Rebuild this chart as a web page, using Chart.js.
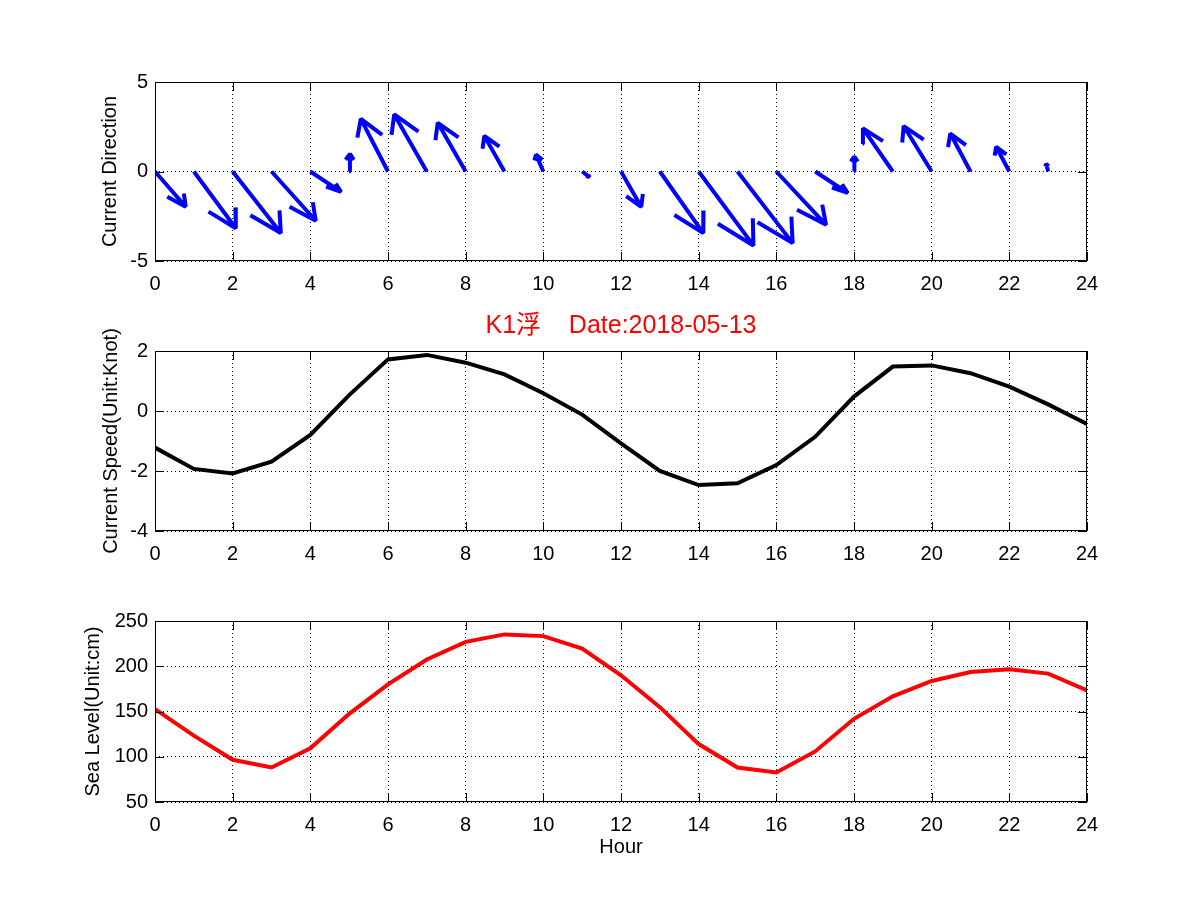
<!DOCTYPE html>
<html>
<head>
<meta charset="utf-8">
<title>K1 current and sea level</title>
<script src="https://cdn.jsdelivr.net/npm/chart.js@4.4.1/dist/chart.umd.min.js"></script>
<style>
  html, body { margin: 0; padding: 0; background: #fff; }
  #wrap { position: relative; width: 1201px; height: 901px; overflow: hidden; }
  #wrap canvas { position: absolute; left: 0; }
</style>
</head>
<body>
<div id="wrap">
  <canvas id="dirChart" width="1201" height="300" style="top:0px"></canvas>
  <canvas id="speedChart" width="1201" height="270" style="top:300px"></canvas>
  <canvas id="levelChart" width="1201" height="331" style="top:570px"></canvas>
</div>
<script>
// hourly readings, 2018-05-13
const hours = [0, 1, 2, 3, 4, 5, 6, 7, 8, 9, 10, 11, 12, 13, 14, 15, 16, 17, 18, 19, 20, 21, 22, 23, 24];

// current direction arrows (east / north components), one per hour 0..23
const arrowHours = [0, 1, 2, 3, 4, 5, 6, 7, 8, 9, 10, 11, 12, 13, 14, 15, 16, 17, 18, 19, 20, 21, 22, 23];
const dirU = [0.79, 1.08, 1.24, 1.14, 0.79, 0.02, -0.70, -0.84, -0.72, -0.52, -0.19, 0.19,
              0.52, 1.12, 1.41, 1.42, 1.28, 0.84, 0.01, -0.77, -0.72, -0.52, -0.34, -0.05];
const dirV = [-1.97, -3.17, -3.44, -2.75, -1.14, 0.98, 2.94, 3.19, 2.72, 1.99, 0.94, -0.31,
              -1.97, -3.44, -4.13, -4.00, -2.98, -1.20, 0.83, 2.41, 2.54, 2.12, 1.38, 0.42];

const speed = [-1.22, -1.93, -2.08, -1.69, -0.80, 0.53, 1.72, 1.87, 1.61, 1.22, 0.59, -0.12,
               -1.08, -2.00, -2.47, -2.41, -1.80, -0.86, 0.48, 1.48, 1.52, 1.26, 0.81, 0.22, -0.43];

const seaLevel = [152.6, 123.3, 96.7, 88.1, 109.3, 147.4, 180.0, 207.4, 227.0, 235.2, 233.3, 219.6,
                  190.0, 154.8, 114.0, 88.1, 82.6, 105.9, 141.9, 166.7, 183.7, 193.7, 196.7, 191.9, 173.3];

// tick labels
const hourTicks = [0, 2, 4, 6, 8, 10, 12, 14, 16, 18, 20, 22, 24];
const dirTicks = [-5, 0, 5];
const speedTicks = [-4, -2, 0, 2];
const levelTicks = [50, 100, 150, 200, 250];

const FONT = 'Liberation Sans, Arial, Helvetica, "Noto Sans CJK SC", sans-serif';
Chart.defaults.font.family = FONT;
Chart.defaults.font.size = 20;
Chart.defaults.color = '#000';

// box around the axes with short inward ticks, like matlab
const framePlugin = {
  id: 'frame',
  afterDraw(chart) {
    const { ctx, chartArea: a, scales } = chart;
    const tl = 9;
    ctx.save();
    ctx.strokeStyle = '#000';
    ctx.lineWidth = 1;
    ctx.beginPath();
    ctx.rect(Math.round(a.left) + 0.5, Math.round(a.top) + 0.5,
             Math.round(a.right - a.left) - 1, Math.round(a.bottom - a.top) - 1);
    scales.x.ticks.forEach(t => {
      const px = Math.round(scales.x.getPixelForValue(t.value)) + 0.5;
      ctx.moveTo(px, a.bottom); ctx.lineTo(px, a.bottom - tl);
      ctx.moveTo(px, a.top); ctx.lineTo(px, a.top + tl);
    });
    scales.y.ticks.forEach(t => {
      const py = Math.round(scales.y.getPixelForValue(t.value)) + 0.5;
      ctx.moveTo(a.left, py); ctx.lineTo(a.left + tl, py);
      ctx.moveTo(a.right, py); ctx.lineTo(a.right - tl, py);
    });
    ctx.stroke();
    ctx.restore();
  }
};

function fixedTicks(values) {
  return scale => { scale.ticks = values.map(v => ({ value: v })); };
}

function xScale(withTitle) {
  return {
    type: 'linear',
    min: 0, max: 24,
    afterBuildTicks: fixedTicks(hourTicks),
    afterFit: s => { s.height = withTitle ? 99 : 39; },
    grid: { color: '#000', lineWidth: 1, drawTicks: false },
    border: { display: false, dash: [1, 3] },
    ticks: { padding: 11, maxRotation: 0, autoSkip: false },
    title: { display: withTitle, text: 'Hour', padding: { top: 0, bottom: 42 } }
  };
}

function yScale(min, max, ticks, label, titleOffset) {
  return {
    min: min, max: max,
    afterBuildTicks: fixedTicks(ticks),
    afterFit: s => { s.width = 155; },
    grid: { color: '#000', lineWidth: 1, drawTicks: false },
    border: { display: false, dash: [1, 3] },
    ticks: { padding: 7 },
    title: { display: true, text: label, padding: { top: titleOffset, bottom: 0 } }
  };
}

function baseOptions(padTop) {
  return {
    responsive: false,
    animation: false,
    events: [],
    layout: { padding: { left: 0, right: 114, top: padTop, bottom: 0 } },
    plugins: { legend: { display: false }, tooltip: { enabled: false } }
  };
}

// quiver: shaft plus two barbs per arrow, gaps split the arrows
function arrowPoints() {
  const alpha = 0.33, beta = 0.33;
  const pts = [];
  arrowHours.forEach((h, i) => {
    const u = dirU[i], v = dirV[i];
    const tx = h + u, ty = v;
    pts.push({ x: h, y: 0 }, { x: tx, y: ty }, { x: tx, y: null });
    pts.push({ x: tx - alpha * (u + beta * v), y: ty - alpha * (v - beta * u) },
             { x: tx, y: ty },
             { x: tx - alpha * (u - beta * v), y: ty - alpha * (v + beta * u) },
             { x: tx, y: null });
  });
  return pts;
}

const dirOpts = baseOptions(82);
dirOpts.scales = { x: xScale(false), y: yScale(-5, 5, dirTicks, 'Current Direction', 98) };
new Chart(document.getElementById('dirChart'), {
  type: 'scatter',
  data: {
    datasets: [{
      data: arrowPoints(),
      showLine: true,
      spanGaps: false,
      borderColor: '#0000ff',
      borderWidth: 4,
      borderCapStyle: 'butt',
      borderJoinStyle: 'bevel',
      pointRadius: 0
    }]
  },
  options: dirOpts,
  plugins: [framePlugin]
});

// the middle plot carries the figure title; an empty top axis keeps it centred on the plot
const speedOpts = baseOptions(0);
speedOpts.scales = {
  x: xScale(false),
  xTop: {
    type: 'linear',
    position: 'top',
    min: 0, max: 24,
    afterFit: s => { s.height = 51; },
    grid: { display: false },
    border: { display: false },
    ticks: { display: false },
    title: {
      display: true,
      text: 'K1浮    Date:2018-05-13',
      color: '#ff0000',
      font: { size: 25 },
      padding: { top: 11, bottom: 0 }
    }
  },
  y: yScale(-4, 2, speedTicks, 'Current Speed(Unit:Knot)', 99)
};
new Chart(document.getElementById('speedChart'), {
  type: 'line',
  data: {
    labels: hours,
    datasets: [{
      data: hours.map((h, i) => ({ x: h, y: speed[i] })),
      borderColor: '#000000',
      borderWidth: 4,
      pointRadius: 0,
      tension: 0
    }]
  },
  options: speedOpts,
  plugins: [framePlugin]
});

const levelOpts = baseOptions(51);
levelOpts.scales = { x: xScale(true), y: yScale(50, 250, levelTicks, 'Sea Level(Unit:cm)', 81) };
new Chart(document.getElementById('levelChart'), {
  type: 'line',
  data: {
    labels: hours,
    datasets: [{
      data: hours.map((h, i) => ({ x: h, y: seaLevel[i] })),
      borderColor: '#ff0000',
      borderWidth: 4,
      pointRadius: 0,
      tension: 0
    }]
  },
  options: levelOpts,
  plugins: [framePlugin]
});
</script>
</body>
</html>
